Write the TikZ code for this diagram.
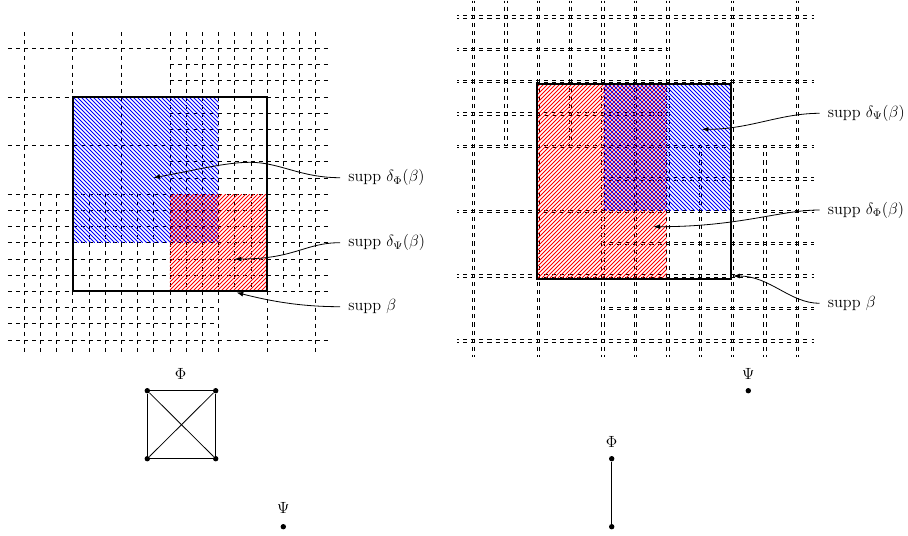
\documentclass[12pt,tikz,border=0pt]{standalone}
\usetikzlibrary{arrows.meta}
% left grid: column i -> x = 24+16.2 i, row j -> y = 48.3+16.2 j  (pixel units, y downwards)
\newcommand\gridH[3]{\draw[leftgrid] ({24+16.2*(#2)},{48.3+16.2*(#1)}) -- ({24+16.2*(#3)},{48.3+16.2*(#1)});}
\newcommand\gridV[3]{\draw[leftgrid] ({24+16.2*(#1)},{48.3+16.2*(#2)}) -- ({24+16.2*(#1)},{48.3+16.2*(#3)});}
% right grid (two parallel strands): column p -> x = 473.3+32.4 p, row q -> y = 16.7+32.4 q
\newcommand\rgridH[3]{%
  \draw[rightgrid] ({473.3+32.4*(#2)},{16.7+32.4*(#1)-1.2}) -- ({473.3+32.4*(#3)},{16.7+32.4*(#1)-1.2});
  \draw[rightgrid] ({473.3+32.4*(#2)},{16.7+32.4*(#1)+1.2}) -- ({473.3+32.4*(#3)},{16.7+32.4*(#1)+1.2});}
\newcommand\rgridV[3]{%
  \draw[rightgrid] ({473.3+32.4*(#1)-1.2},{16.7+32.4*(#2)}) -- ({473.3+32.4*(#1)-1.2},{16.7+32.4*(#3)});
  \draw[rightgrid] ({473.3+32.4*(#1)+1.2},{16.7+32.4*(#2)}) -- ({473.3+32.4*(#1)+1.2},{16.7+32.4*(#3)});}
% hatching: lines "\" (x-y = 4k) and "/" (x+y = 4k), clipped to a rectangle
\newcommand\hatchNW[5]{\begin{scope}
  \clip (#1,#2) rectangle (#3,#4);
  \pgfmathtruncatemacro\kmin{floor((#1-#4)/4)-1}
  \pgfmathtruncatemacro\kmax{ceil((#3-#2)/4)+1}
  \foreach \k in {\kmin,...,\kmax} {\draw[hatchline, #5] ({4*\k+#2},#2) -- ({4*\k+#4},#4);}
\end{scope}}
\newcommand\hatchNE[5]{\begin{scope}
  \clip (#1,#2) rectangle (#3,#4);
  \pgfmathtruncatemacro\kmin{floor((#1+#2)/4)-1}
  \pgfmathtruncatemacro\kmax{ceil((#3+#4)/4)+1}
  \foreach \k in {\kmin,...,\kmax} {\draw[hatchline, #5] ({4*\k-#4},#4) -- ({4*\k-#2},#2);}
\end{scope}}
\tikzset{
  leftgrid/.style={dashed, line width=0.4pt},
  rightgrid/.style={dash pattern=on 3pt off 3pt, dash phase=1.5pt, line width=0.5pt},
  hatchline/.style={line width=0.6pt},
  suppbox/.style={line width=1.4pt},
  lbl/.style={anchor=west, inner xsep=6pt, inner ysep=0pt, text height=9pt, text depth=3pt},
  pointer/.style={line width=0.6pt, -{Latex[length=5pt,width=3.6pt]}},
  vtx/.style={circle, fill, inner sep=0pt, minimum size=4pt},
  glabel/.style={inner sep=0pt},
  gedge/.style={line width=0.6pt}
}
\begin{document}
\begin{tikzpicture}[x=0.7407pt, y=-0.7407pt]
\useasboundingbox (0,0) rectangle (908,535);

% ---------------- left grid ----------------
\foreach \j in {0,3,6,9,12,15,18} {\gridH{\j}{-1}{19}}
\foreach \j in {1,2,4,5,7,8} {\gridH{\j}{9}{19}}
\foreach \j in {10,11,13,14} {\gridH{\j}{-1}{19}}
\foreach \j in {16,17} {\gridH{\j}{-1}{12}}
\foreach \i in {0,3,6,9,12,15,18} {\gridV{\i}{-1}{19}}
\foreach \i in {1,2,4,5,7,8} {\gridV{\i}{9}{19}}
\foreach \i in {10,11} {\gridV{\i}{-1}{19}}
\foreach \i in {13,14,16,17} {\gridV{\i}{-1}{15}}

% ---------------- right grid ----------------
\foreach \q in {0,2,4,6,8,10} {\rgridH{\q}{-0.5}{10.5}}
\foreach \q in {1,3} {\rgridH{\q}{-0.5}{6}}
\foreach \q in {5,7,9} {\rgridH{\q}{4}{10.5}}
\foreach \p in {0,2,4,6,8,10} {\rgridV{\p}{-0.5}{10.5}}
\foreach \p in {1,3} {\rgridV{\p}{-0.5}{4}}
\rgridV{5}{-0.5}{10.5}
\foreach \p in {7,9} {\rgridV{\p}{4}{10.5}}

% ---------------- hatched supports ----------------
\hatchNW{72.6}{96.9}{218.4}{242.7}{blue}
\hatchNE{169.8}{194.1}{267}{291.3}{red}
\hatchNE{536.7}{84}{666.5}{278.8}{red}
\hatchNW{603.5}{84}{731}{210.8}{blue}

% ---------------- supp beta boxes ----------------
\draw[suppbox] (72.6,96.9) rectangle (267,291.3);
\draw[suppbox] (536.7,84) rectangle (731,278.8);

% ---------------- labels and pointers (left) ----------------
\node[lbl] (L1) at (340,177.7) {supp $\delta_{\Phi}(\beta)$};
\node[lbl] (L2) at (340,242.7) {supp $\delta_{\Psi}(\beta)$};
\node[lbl] (L3) at (340,306.7) {supp $\beta$};
\coordinate (t1) at (153.3,177.7);
\coordinate (t2) at (234.7,259);
\coordinate (t3) at (236.5,292.5);
\draw[pointer] (L1.west) .. controls (300,177.7) and (280,162.3) .. (250,162.3)
                         .. controls (225,162.3) and (193.3,170.7) .. (t1);
\draw[pointer] (L2.west) .. controls (305,242.7) and (295,259) .. (t2);
\draw[pointer] (L3.west) .. controls (300,306.7) and (270,301) .. (t3);

% ---------------- labels and pointers (right) ----------------
\node[lbl] (R1) at (819.5,113.3) {supp $\delta_{\Psi}(\beta)$};
\node[lbl] (R2) at (819.5,210) {supp $\delta_{\Phi}(\beta)$};
\node[lbl] (R3) at (819.5,303.3) {supp $\beta$};
\coordinate (t4) at (701.7,129.3);
\coordinate (t5) at (653.3,226.7);
\coordinate (t6) at (733,276);
\draw[pointer] (R1.west) .. controls (780,113.3) and (750,129.3) .. (t4);
\draw[pointer] (R2.west) .. controls (780,210) and (740,226.7) .. (t5);
\draw[pointer] (R3.west) .. controls (790,303.3) and (770,276) .. (t6);

% ---------------- left graphs ----------------
\node[glabel] (phiA) at (180.7,374) {$\Phi$};
\node[vtx] (a1) at (147.3,390.7) {};
\node[vtx] (a2) at (215.7,390.7) {};
\node[vtx] (a3) at (147.3,458.7) {};
\node[vtx] (a4) at (215.7,458.7) {};
\draw[gedge] (a1) -- (a2);
\draw[gedge] (a1) -- (a3);
\draw[gedge] (a2) -- (a4);
\draw[gedge] (a3) -- (a4);
\draw[gedge] (a1) -- (a4);
\draw[gedge] (a2) -- (a3);
\node[glabel] (psiA) at (283.3,508.3) {$\Psi$};
\node[vtx] (b1) at (283.3,526.7) {};

% ---------------- right graphs ----------------
\node[glabel] (psiB) at (748.3,374) {$\Psi$};
\node[vtx] (c1) at (748.3,390.7) {};
\node[glabel] (phiB) at (611.7,441.7) {$\Phi$};
\node[vtx] (d1) at (611.7,458.7) {};
\node[vtx] (d2) at (611.7,526.7) {};
\draw[gedge] (d1) -- (d2);
\end{tikzpicture}
\end{document}
